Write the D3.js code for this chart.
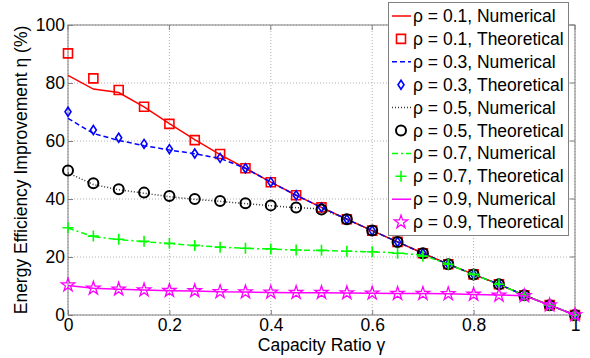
<!DOCTYPE html>
<html><head><meta charset="utf-8">
<script src="https://cdn.jsdelivr.net/npm/d3@7"></script>
<style>body{margin:0;background:#fff}svg{display:block}text{font-family:"Liberation Sans",Arial,sans-serif}</style>
</head><body><svg id="c" width="590" height="358"></svg>
<script>
const gamma=[0,0.05,0.1,0.15,0.2,0.25,0.3,0.35,0.4,0.45,0.5,0.55,0.6,0.65,0.7,0.75,0.8,0.85,0.9,0.95,1];
const rho01Num=[82.6,77.9,76.7,71.8,66.0,60.5,55.3,50.6,45.8,41.3,37.1,33.0,29.1,25.2,21.3,17.5,14.0,10.6,6.8,3.4,0];
const rho01Th=[90.2,81.6,77.6,71.8,65.9,60.3,55.5,50.6,45.8,41.3,37.1,33.0,29.1,25.2,21.3,17.5,14.0,10.6,6.8,3.4,0];
const rho03Num=[67.8,62.6,60.2,58.4,56.9,55.6,54.0,50.6,45.8,41.3,37.1,33.0,29.1,25.2,21.3,17.5,14.0,10.6,6.8,3.4,0];
const rho03Th=[70.1,63.8,61.1,59.0,57.2,55.7,54.2,50.6,45.8,41.3,37.1,33.0,29.1,25.2,21.3,17.5,14.0,10.6,6.8,3.4,0];
const rho05Num=[49.0,45.0,43.2,42.0,40.8,39.9,39.2,38.4,37.7,37.0,36.6,33.0,29.1,25.2,21.3,17.5,14.0,10.6,6.8,3.4,0];
const rho05Th=[49.8,45.4,43.4,42.2,41.0,40.0,39.3,38.5,37.8,37.1,36.4,33.0,29.1,25.2,21.3,17.5,14.0,10.6,6.8,3.4,0];
const rho07Num=[30.0,27.0,26.0,25.3,24.6,24.0,23.4,23.0,22.7,22.4,22.2,22.0,21.8,21.4,20.6,17.5,14.0,10.6,6.8,3.4,0];
const rho07Th=[30.1,27.2,26.1,25.4,24.7,24.0,23.4,23.0,22.8,22.4,22.3,22.0,21.8,21.3,20.3,17.5,14.0,10.6,6.8,3.4,0];
const rho09Num=[10.2,9.2,8.9,8.6,8.4,8.3,8.0,7.9,7.8,7.7,7.7,7.6,7.5,7.4,7.4,7.3,7.1,6.9,6.6,3.4,0];
const rho09Th=[10.3,9.2,8.9,8.6,8.4,8.3,8.0,7.9,7.8,7.7,7.7,7.6,7.5,7.4,7.4,7.3,7.1,6.8,6.6,3.4,0];
const xTicks=[0,0.2,0.4,0.6,0.8,1];
const yTicks=[0,20,40,60,80,100];
const series=[
 {label:"ρ = 0.1, Numerical",y:rho01Num,type:"line",color:"#ff0000",dash:null},
 {label:"ρ = 0.1, Theoretical",y:rho01Th,type:"mark",color:"#ff0000",marker:"square"},
 {label:"ρ = 0.3, Numerical",y:rho03Num,type:"line",color:"#0000ff",dash:"5,3"},
 {label:"ρ = 0.3, Theoretical",y:rho03Th,type:"mark",color:"#0000ff",marker:"diamond"},
 {label:"ρ = 0.5, Numerical",y:rho05Num,type:"line",color:"#333333",dash:"1,2"},
 {label:"ρ = 0.5, Theoretical",y:rho05Th,type:"mark",color:"#000000",marker:"circle"},
 {label:"ρ = 0.7, Numerical",y:rho07Num,type:"line",color:"#00ff00",dash:"6,3,2,3"},
 {label:"ρ = 0.7, Theoretical",y:rho07Th,type:"mark",color:"#00ff00",marker:"plus"},
 {label:"ρ = 0.9, Numerical",y:rho09Num,type:"line",color:"#ff00ff",dash:null},
 {label:"ρ = 0.9, Theoretical",y:rho09Th,type:"mark",color:"#ff00ff",marker:"star"}
];
const FS=17.5;
const svg=d3.select("#c");
const L=68,R=575,T=25,B=315;
const x=d3.scaleLinear().domain([0,1]).range([L,R]);
const y=d3.scaleLinear().domain([0,100]).range([B,T]);
function markerPath(m){
  if(m==="square") return "M-4.5,-4.5h9v9h-9z";
  if(m==="diamond") return "M0,-4.5L3,0L0,4.5L-3,0Z";
  if(m==="circle") return "M5,0A5,5 0 1,1 -5,0A5,5 0 1,1 5,0Z";
  if(m==="plus") return "M-5.5,0h11M0,-5.5v11";
  if(m==="star") return d3.symbol(d3.symbolStar,55)();
}
function markerStroke(m){return m==="circle"?2:(m==="star"?1.3:1.6);}
// grid
const g=svg.append("g");
g.selectAll(".gx").data(xTicks).join("line").attr("x1",d=>x(d)).attr("x2",d=>x(d)).attr("y1",T).attr("y2",B)
 .attr("stroke","#b0b0b0").attr("stroke-width",1).attr("stroke-dasharray","1,2");
g.selectAll(".gy").data(yTicks).join("line").attr("x1",L).attr("x2",R).attr("y1",d=>y(d)).attr("y2",d=>y(d))
 .attr("stroke","#b0b0b0").attr("stroke-width",1).attr("stroke-dasharray","1,2");
// frame
svg.append("rect").attr("x",L).attr("y",T).attr("width",R-L).attr("height",B-T).attr("fill","none").attr("stroke","#808080").attr("stroke-width",1);
// axes
const ax=svg.append("g").attr("transform",`translate(0,${B})`).call(d3.axisBottom(x).tickValues(xTicks).tickSize(-5).tickPadding(4).tickFormat(d=>d===0||d===1?d3.format("d")(d):d3.format(".1f")(d)));
const ay=svg.append("g").attr("transform",`translate(${L},0)`).call(d3.axisLeft(y).tickValues(yTicks).tickSize(-5).tickPadding(3));
[ax,ay].forEach(a=>{a.select(".domain").remove();a.selectAll("line").attr("stroke","#808080");a.selectAll("text").attr("font-size",FS).attr("fill","#000").attr("font-family","Liberation Sans, Arial, sans-serif");});
// top/right ticks
svg.selectAll(".tt").data(xTicks).join("line").attr("x1",d=>x(d)).attr("x2",d=>x(d)).attr("y1",T).attr("y2",T+5).attr("stroke","#808080");
svg.selectAll(".tr").data(yTicks).join("line").attr("x1",R).attr("x2",R-5).attr("y1",d=>y(d)).attr("y2",d=>y(d)).attr("stroke","#808080");
// data
const line=d3.line().x((d,i)=>x(gamma[i])).y(d=>y(d));
const plot=svg.append("g");
series.forEach(s=>{
  if(s.type==="line"){
    plot.append("path").attr("d",line(s.y)).attr("fill","none").attr("stroke",s.color).attr("stroke-width",1.5).attr("stroke-dasharray",s.dash);
  } else {
    plot.append("g").selectAll("path").data(s.y).join("path").attr("transform",(d,i)=>`translate(${x(gamma[i])},${y(d)})`)
      .attr("d",markerPath(s.marker)).attr("fill","none").attr("stroke",s.color).attr("stroke-width",markerStroke(s.marker));
  }
});
// labels
svg.append("text").attr("x",(L+R)/2).attr("y",351).attr("text-anchor","middle").attr("font-size",FS).text("Capacity Ratio γ");
svg.append("text").attr("transform",`translate(27,${(T+B)/2}) rotate(-90)`).attr("text-anchor","middle").attr("font-size",FS).text("Energy Efficiency Improvement η (%)");
// legend
const lg=svg.append("g");
lg.append("rect").attr("x",388.5).attr("y",2.5).attr("width",180).attr("height",233).attr("fill","#fff").attr("stroke","#808080");
series.forEach((s,i)=>{
  const cy=16+i*22.9;
  if(s.type==="line") lg.append("line").attr("x1",392).attr("x2",411).attr("y1",cy).attr("y2",cy).attr("stroke",s.color).attr("stroke-width",1.5).attr("stroke-dasharray",s.dash);
  else lg.append("path").attr("transform",`translate(401,${cy})`).attr("d",markerPath(s.marker)).attr("fill","none").attr("stroke",s.color).attr("stroke-width",markerStroke(s.marker));
  lg.append("text").attr("x",413).attr("y",cy+6).attr("font-size",FS).text(s.label);
});
</script></body></html>
